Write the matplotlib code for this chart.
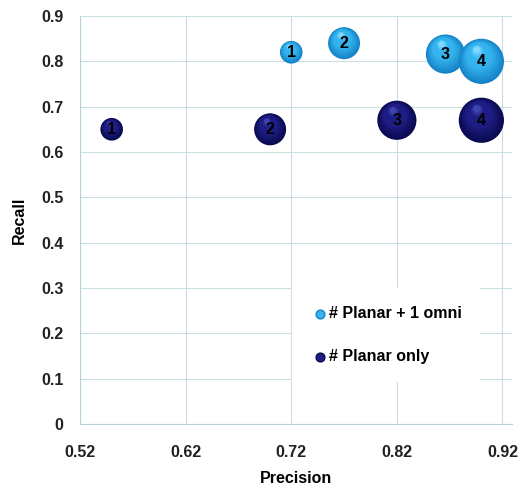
import matplotlib
matplotlib.use("Agg")
import matplotlib.pyplot as plt
import matplotlib.transforms as mtransforms
import numpy as np

plt.rcParams['font.family'] = ['Liberation Sans', 'DejaVu Sans']

labels = ["1", "2", "3", "4"]
omni_precision = [0.72, 0.77, 0.866, 0.90]
omni_recall = [0.82, 0.84, 0.816, 0.80]
planar_precision = [0.55, 0.70, 0.82, 0.90]
planar_recall = [0.65, 0.65, 0.67, 0.67]
bubble_value = [1, 2, 3, 4]
series_names = ["# Planar + 1 omni", "# Planar only"]
xticks = [0.52, 0.62, 0.72, 0.82, 0.92]
yticks = [0, 0.1, 0.2, 0.3, 0.4, 0.5, 0.6, 0.7, 0.8, 0.9]

fig = plt.figure(figsize=(5.25, 4.88), dpi=100)
ax = fig.add_axes([80/525, 1-424/488, 432/525, 408/488])
ax.set_xlim(0.52, 0.929)
ax.set_ylim(0, 0.9)

grid_c = '#c9dde3'
for x in xticks:
    ax.axvline(x, color=grid_c, lw=0.8, zorder=0)
for y in yticks:
    ax.axhline(y, color=grid_c, lw=0.8, zorder=0)

for s in ['top', 'right']:
    ax.spines[s].set_visible(False)
ax.spines['left'].set_color('#b8d2da')
ax.spines['bottom'].set_color('#b8d2da')

ax.set_xticks(xticks)
ax.set_xticklabels(["%.2f" % v for v in xticks])
ax.set_yticks(yticks)
ax.set_yticklabels(["0" if v == 0 else "%.1f" % v for v in yticks])
ax.tick_params(axis='x', length=0, pad=15, labelsize=11.5)
ax.tick_params(axis='y', length=0, pad=12, labelsize=11.5)
for lab in ax.get_xticklabels() + ax.get_yticklabels():
    lab.set_fontweight('bold')
    lab.set_color('#222222')
ax.set_xlabel("Precision", fontsize=11.5, fontweight='bold', labelpad=8)
ax.set_ylabel("Recall", fontsize=11.5, fontweight='bold', labelpad=10)

unit = 265  # marker area (pt^2) per bubble value


def sphere(xs, ys, vals, edge, mid, hi, z):
    xs = np.array(xs); ys = np.array(ys); vals = np.array(vals, float)
    n = 14
    c0 = np.array(matplotlib.colors.to_rgb(edge))
    c1 = np.array(matplotlib.colors.to_rgb(mid))
    c2 = np.array(matplotlib.colors.to_rgb(hi))
    for i, (x, y, v) in enumerate(zip(xs, ys, vals)):
        for k in range(n):
            t = k / (n - 1)
            frac = (1 - 0.85 * t)
            if t < 0.5:
                col = c0 + (c1 - c0) * (t / 0.5)
            elif t < 0.8:
                col = c1
            else:
                col = c1 + (c2 - c1) * ((t - 0.8) / 0.2)
            r = np.sqrt(unit * v) / 2  # radius in points
            off = r * (1 - frac) * 0.6
            tr = mtransforms.offset_copy(ax.transData, fig=fig, x=-off * 0.4, y=off, units='points')
            ax.scatter([x], [y], s=unit * v * frac ** 2, color=col, edgecolors='none',
                       transform=tr, zorder=z + i * 0.2 + k * 0.01)


sphere(omni_precision, omni_recall, bubble_value, '#1683c8', '#33b4ee', '#7fd8ff', 3)
sphere(planar_precision, planar_recall, bubble_value, '#0a0a50', '#1d1d85', '#3f45b0', 3)

for xs, ys in [(omni_precision, omni_recall), (planar_precision, planar_recall)]:
    for x, y, l in zip(xs, ys, labels):
        ax.text(x, y, l, ha='center', va='center', fontsize=11.5, fontweight='bold',
                color='black', zorder=10)

# legend
h1 = ax.scatter([], [], s=40, color='#33b4ee', edgecolors='#1683c8')
h2 = ax.scatter([], [], s=40, color='#1d1d85', edgecolors='#0a0a50')
leg = ax.legend([h1, h2], series_names, loc='lower left', bbox_to_anchor=(0.472, 0.085),
                frameon=True, fancybox=False, edgecolor='white', framealpha=1,
                handletextpad=-0.1, labelspacing=1.75, borderpad=1.1, handlelength=1.3,
                prop={'weight': 'bold', 'size': 11.5})
leg.set_zorder(20)

fig.savefig("out.png", dpi=100, facecolor='white')
